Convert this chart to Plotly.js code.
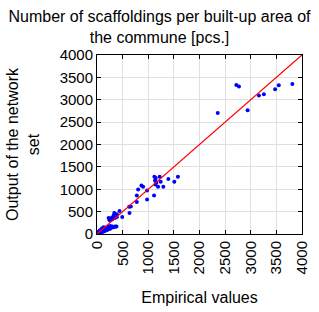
<!DOCTYPE html>
<html>
<head>
<meta charset="utf-8">
<script src="https://cdn.plot.ly/plotly-3.0.1.min.js"></script>
<style>html,body{margin:0;padding:0;background:#fff;}#chart{width:319px;height:312px;}</style>
</head>
<body>
<div id="chart"></div>
<script>
var empirical = [10,20,30,40,50,60,70,80,90,100,110,120,130,140,150,160,170,180,200,210,220,240,260,280,300,320,340,360,380,50,80,100,130,60,90,150,200,250,30,15,
  227,252,246,285,324,337,350,388,388,440,492,270,300,310,
  628,634,660,777,777,803,867,900,977,977,1113,
  1120,1146,1223,1133,1159,1243,1139,1191,1294,1392,1508,1579,
  2356,2718,2770,2939,3159,3256,3476,3547,3812];
var network = [5,15,10,30,20,45,30,60,50,70,80,60,100,90,120,110,140,130,150,120,170,160,180,140,170,150,160,170,165,80,100,130,150,10,20,60,90,110,50,30,
  357,327,305,357,416,468,357,379,439,513,379,340,330,370,
  610,468,617,862,714,996,1086,1056,974,773,862,
  1279,1249,1279,1197,1152,1167,1108,1056,1056,1227,1167,1279,
  2706,3331,3294,2766,3093,3123,3234,3323,3353];
var lineX = [0,4000];
var lineY = [0,4000];
var tickVals = [0,500,1000,1500,2000,2500,3000,3500,4000];
var tickText = ['0','500','1000','1500','2000','2500','3000','3500','4000'];

var fam = 'Liberation Sans, Arial, sans-serif';
var data = [
  {x:empirical, y:network, type:'scatter', mode:'markers', marker:{color:'#0000ff', size:4}, showlegend:false, hoverinfo:'skip'},
  {x:lineX, y:lineY, type:'scatter', mode:'lines', line:{color:'#ff0000', width:1.3}, showlegend:false, hoverinfo:'skip'}
];
var axisCommon = {
  range:[0,4000], tickvals:tickVals, ticktext:tickText, ticks:'inside', ticklen:4, tickcolor:'#000',
  showline:true, linecolor:'#000', linewidth:1, mirror:'ticks', showgrid:true, gridcolor:'#e0e0e0', gridwidth:1,
  zeroline:false, tickfont:{family:fam, size:15, color:'#000'}
};
var layout = {
  width:319, height:312,
  margin:{l:97, r:17, t:55, b:78},
  paper_bgcolor:'#fff', plot_bgcolor:'#fff',
  font:{family:fam, size:15, color:'#000'},
  title:{text:'Number of scaffoldings per built-up area of<br>the commune [pcs.]', x:0.5, xanchor:'center', yref:'container', y:0.93, yanchor:'middle', font:{family:fam, size:16, color:'#000'}},
  xaxis:Object.assign({}, axisCommon, {tickangle:-90, title:{text:'Empirical values', font:{family:fam, size:16, color:'#000'}, standoff:18}}),
  yaxis:Object.assign({}, axisCommon, {title:{text:'Output of the network<br>set', font:{family:fam, size:16, color:'#000'}, standoff:16}})
};
Plotly.newPlot('chart', data, layout, {staticPlot:true, displayModeBar:false});
</script>
</body>
</html>
